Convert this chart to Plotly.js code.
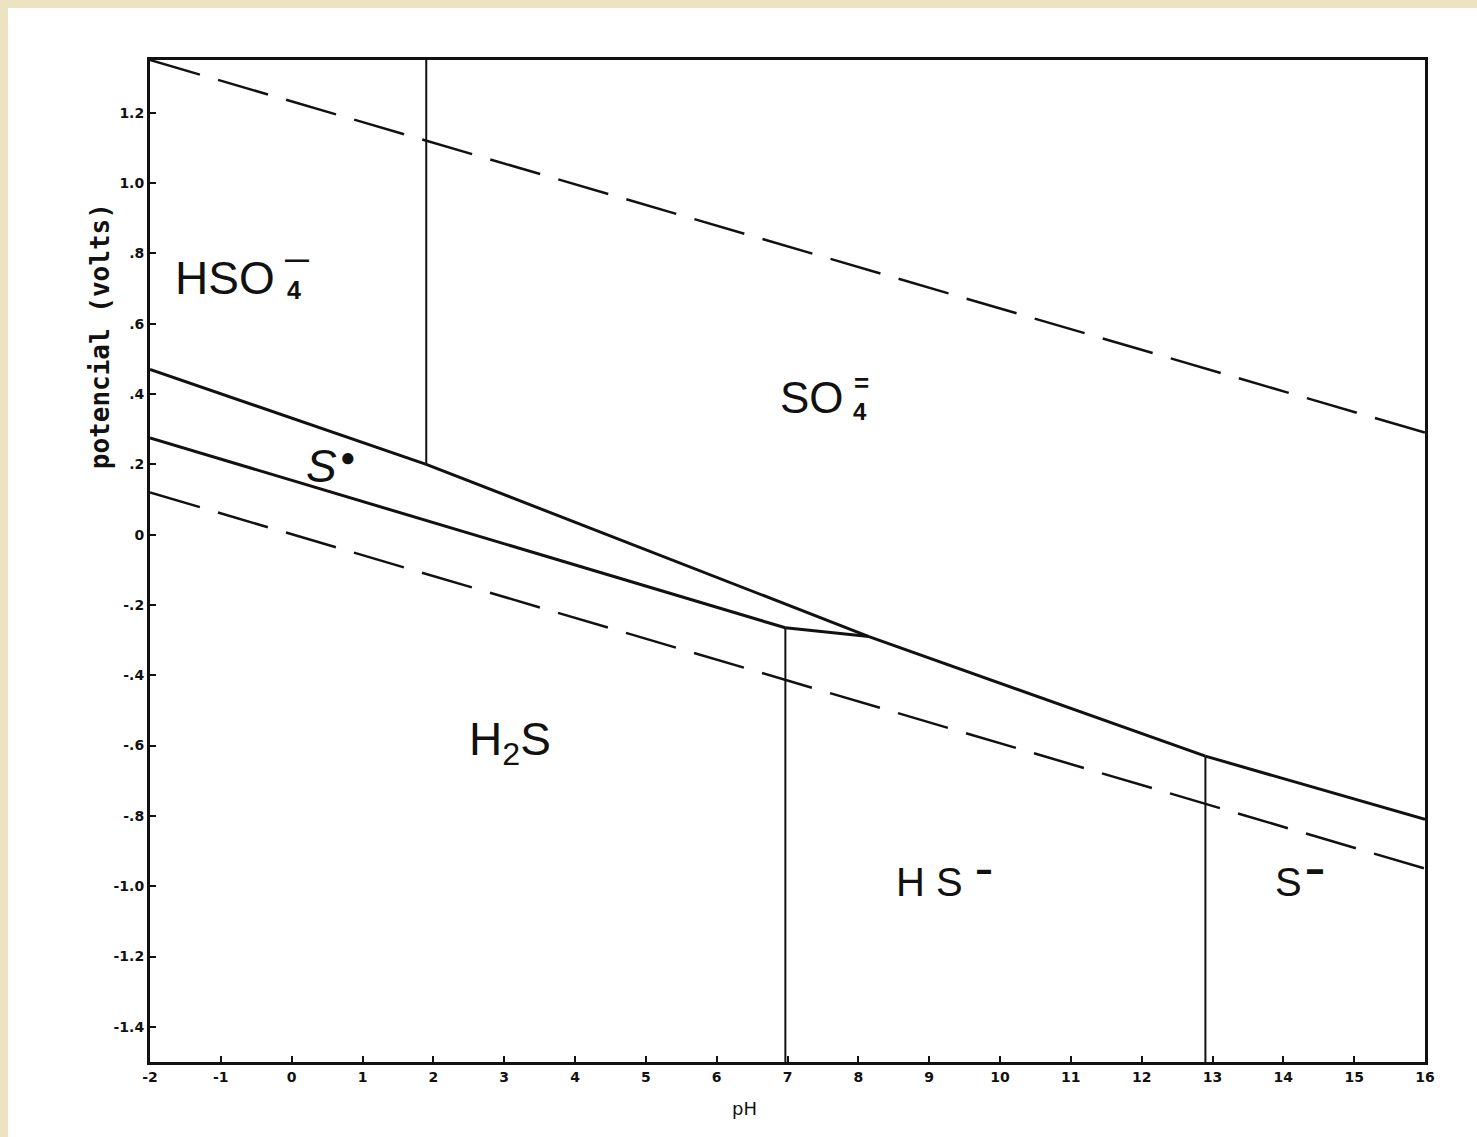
<!DOCTYPE html>
<html>
<head>
<meta charset="utf-8">
<script src="https://cdn.plot.ly/plotly-3.0.1.min.js"></script>
<style>
  html, body { margin: 0; padding: 0; background: #ece3c1; width: 1477px; height: 1137px; overflow: hidden; }
  #chart { position: absolute; left: 8px; top: 8px; width: 1469px; height: 1129px; background: #fff; }
</style>
</head>
<body>
<div id="chart"></div>
<script>
// Axis ticks
const phTicks = [-2, -1, 0, 1, 2, 3, 4, 5, 6, 7, 8, 9, 10, 11, 12, 13, 14, 15, 16];
const phTickText = ["-2", "-1", "0", "1", "2", "3", "4", "5", "6", "7", "8", "9", "10", "11", "12", "13", "14", "15", "16"];
const eTicks = [1.2, 1.0, 0.8, 0.6, 0.4, 0.2, 0, -0.2, -0.4, -0.6, -0.8, -1.0, -1.2, -1.4];
const eTickText = ["1.2", "1.0", ".8", ".6", ".4", ".2", "0", "-.2", "-.4", "-.6", "-.8", "-1.0", "-1.2", "-1.4"];

// Water stability limits (dashed)
const o2Ph = [-2, 16];
const o2E = [1.35, 0.29];
const h2Ph = [-2, 16];
const h2E = [0.12, -0.95];

// Domain boundaries (solid)
const hso4SPh = [-2, 1.9];
const hso4SE = [0.47, 0.20];
const so4SPh = [1.9, 8.15];
const so4SE = [0.20, -0.29];
const so4HsPh = [8.15, 12.9];
const so4HsE = [-0.29, -0.63];
const so4S2Ph = [12.9, 16];
const so4S2E = [-0.63, -0.81];
const sH2sPh = [-2, 6.97];
const sH2sE = [0.275, -0.265];
const sHsPh = [6.97, 8.15];
const sHsE = [-0.265, -0.29];
const hso4So4Ph = [1.9, 1.9];
const hso4So4E = [1.35, 0.20];
const h2sHsPh = [6.97, 6.97];
const h2sHsE = [-0.265, -1.5];
const hsS2Ph = [12.9, 12.9];
const hsS2E = [-0.63, -1.5];

const ink = '#111';
function line(x, y, w, dash) {
  return { x: x, y: y, type: 'scatter', mode: 'lines', hoverinfo: 'skip', showlegend: false,
           line: { color: ink, width: w, dash: dash || 'solid' } };
}

const dashed = '52px,18.9px';
const traces = [
  line(o2Ph, o2E, 2.5, dashed),
  line(h2Ph, h2E, 2.5, dashed),
  line(hso4SPh, hso4SE, 3),
  line(so4SPh, so4SE, 3),
  line(so4HsPh, so4HsE, 3),
  line(so4S2Ph, so4S2E, 3),
  line(sH2sPh, sH2sE, 3),
  line(sHsPh, sHsE, 3),
  line(hso4So4Ph, hso4So4E, 2),
  line(h2sHsPh, h2sHsE, 2),
  line(hsS2Ph, hsS2E, 2)
];

const fam = 'Liberation Sans, Arial, sans-serif';
function lab(text, x, y, size, bold) {
  return { text: text, x: x, y: y, xref: 'x', yref: 'y', showarrow: false,
           xanchor: 'center', yanchor: 'middle',
           font: { family: fam, size: size, color: ink, weight: bold ? 'bold' : 'normal' } };
}

const annotations = [
  lab('HSO', -0.94, 0.73, 46),
  lab('4', 0.03, 0.695, 25, true),
  lab('\u2014', 0.08, 0.785, 24, true),
  lab('SO', 7.35, 0.39, 44),
  lab('4', 8.02, 0.35, 24, true),
  lab('=', 8.05, 0.432, 26, true),
  lab('<i>S</i>', 0.42, 0.195, 46),
  lab('\u25CF', 0.80, 0.222, 26),
  lab('H<sub>2</sub>S', 3.08, -0.59, 46),
  lab('H S', 9.0, -0.988, 40),
  lab('\u25AC', 9.78, -0.952, 14),
  lab('S', 14.07, -0.988, 40),
  lab('\u25AC', 14.45, -0.95, 16),
  { text: 'potencial (volts)', xref: 'paper', yref: 'paper', x: -0.039, y: 0.7246,
    xanchor: 'center', yanchor: 'middle', showarrow: false, textangle: -90,
    font: { family: 'DejaVu Sans Mono, monospace', size: 26, color: ink, weight: 'bold' } },
  { text: 'pH', xref: 'paper', yref: 'paper', x: 0.466, y: -0.046,
    xanchor: 'center', yanchor: 'middle', showarrow: false,
    font: { family: 'DejaVu Sans, sans-serif', size: 18, color: ink } }
];

const tickFont = { family: 'DejaVu Sans, sans-serif', size: 14, color: ink, weight: 'bold' };

const layout = {
  width: 1469,
  height: 1129,
  margin: { l: 142, r: 52, t: 52, b: 75 },
  paper_bgcolor: '#ffffff',
  plot_bgcolor: '#ffffff',
  showlegend: false,
  xaxis: {
    range: [-2, 16],
    tickvals: phTicks,
    ticktext: phTickText,
    tickfont: tickFont,
    ticks: 'inside', ticklen: 6, tickwidth: 2, tickcolor: ink,
    showline: true, linecolor: ink, linewidth: 3, mirror: true,
    showgrid: false, zeroline: false
  },
  yaxis: {
    range: [-1.5, 1.35],
    tickvals: eTicks,
    ticktext: eTickText,
    tickfont: tickFont,
    ticks: 'inside', ticklen: 6, tickwidth: 2, tickcolor: ink,
    showline: true, linecolor: ink, linewidth: 3, mirror: true,
    showgrid: false, zeroline: false
  },
  annotations: annotations
};

Plotly.newPlot('chart', traces, layout, { staticPlot: true, displayModeBar: false });
</script>
</body>
</html>
